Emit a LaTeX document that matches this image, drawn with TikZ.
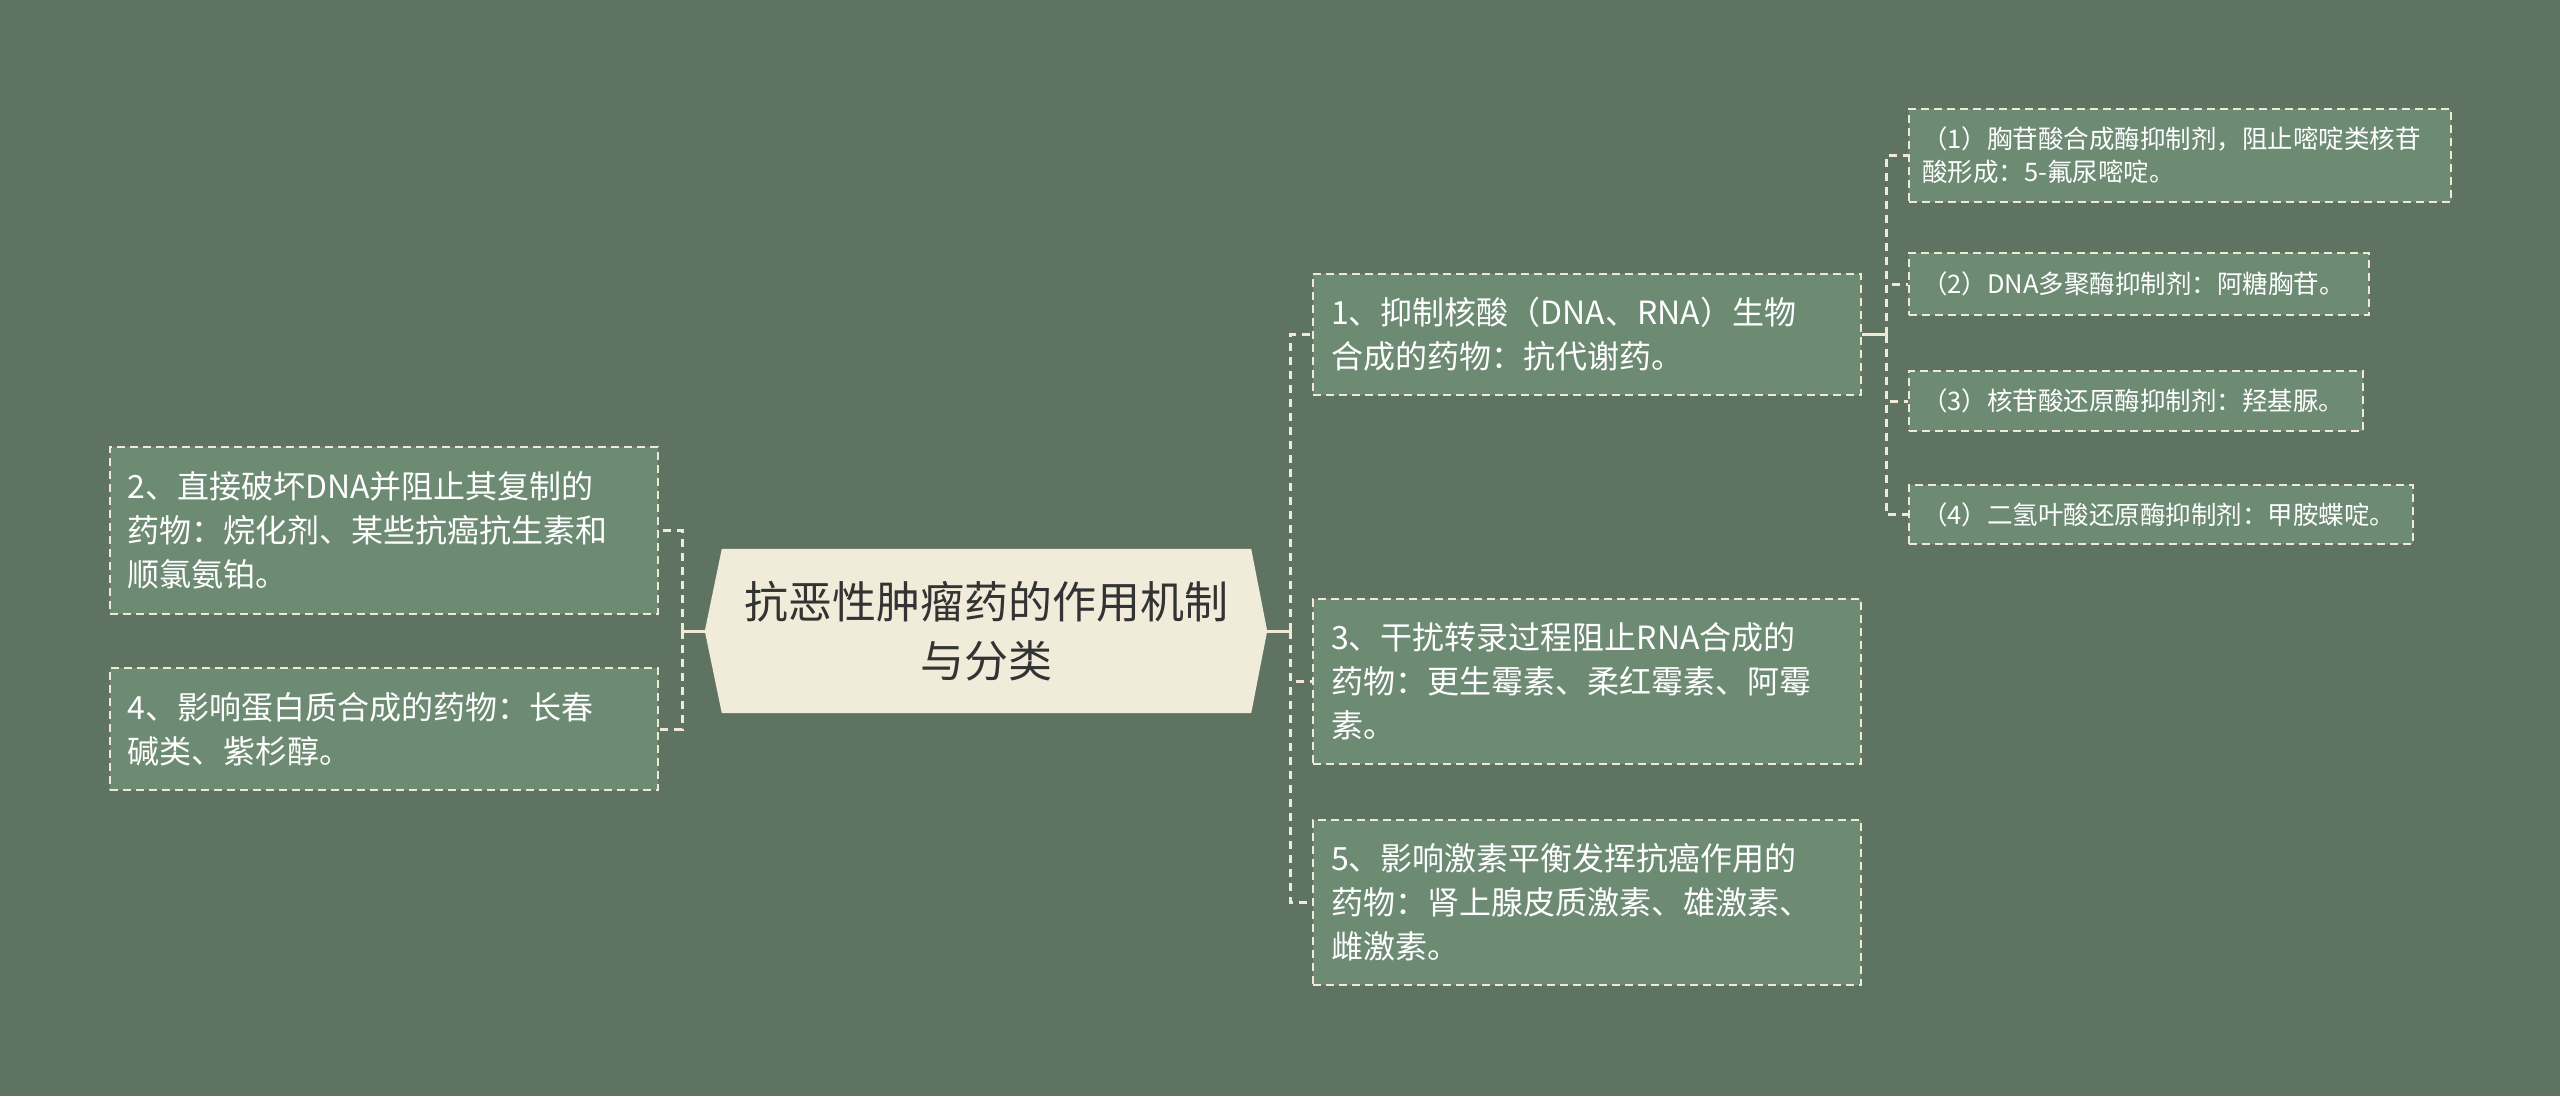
\documentclass[tikz,border=0pt]{standalone}
\usepackage{fontspec}
\setmainfont{Noto Sans CJK SC}
\usepackage{tikz}
\usetikzlibrary{arrows,backgrounds}
\definecolor{bgc}{HTML}{5F7363}
\definecolor{boxc}{HTML}{6D8A73}
\definecolor{rootc}{HTML}{F1EBDA}
\definecolor{linec}{HTML}{EFE9D6}
\tikzstyle{root_n} = [rectangle, text=black!80, font=\fontsize{44pt}{59pt}\selectfont, align=center, inner sep=0pt, minimum width=529pt, minimum height=164pt]
\tikzstyle{mid_n} = [rectangle, draw=linec, fill=boxc, text=white, dash pattern=on 8pt off 5pt, line width=2pt, font=\fontsize{32pt}{44pt}\selectfont, align=left, inner xsep=18pt, inner ysep=0pt, text width=512pt]
\tikzstyle{sub_n} = [rectangle, draw=linec, fill=boxc, text=white, dash pattern=on 8pt off 5pt, line width=2pt, font=\fontsize{25.5pt}{33pt}\selectfont, align=left, inner xsep=13pt, inner ysep=0pt]
\tikzstyle{link} = [draw=linec, line width=3pt]
\tikzstyle{dlink} = [link, dash pattern=on 8pt off 6pt]

\begin{document}
\begin{tikzpicture}[x=1pt,y=-1pt]
\useasboundingbox (0,0) rectangle (2560,1096);
\begin{pgfonlayer}{background}
\fill[bgc] (0,0) rectangle (2560,1096);
\end{pgfonlayer}

% centre
\node [root_n] (root) at (986.5,631) {抗恶性肿瘤药的作用机制\\与分类};
\coordinate (root_l) at ([xshift=-17pt]root.west);
\coordinate (root_r) at ([xshift=16pt]root.east);
\begin{pgfonlayer}{background}
\fill[rootc] (root.north west) -- (root.north east) -- (root_r) -- (root.south east)
    -- (root.south west) -- (root_l) -- cycle;
\end{pgfonlayer}

% right side
\node [mid_n, minimum height=121pt] (n1) at (1587,334.5) {1、抑制核酸（DNA、RNA）生物\\合成的药物：抗代谢药。};
\node [mid_n, minimum height=165pt] (n3) at (1587,681.5) {3、干扰转录过程阻止RNA合成的\\药物：更生霉素、柔红霉素、阿霉\\素。};
\node [mid_n, minimum height=165pt] (n5) at (1587,902.5) {5、影响激素平衡发挥抗癌作用的\\药物：肾上腺皮质激素、雄激素、\\雌激素。};

% left side
\node [mid_n, minimum height=167pt] (n2) at (383.5,530.5) {2、直接破坏DNA并阻止其复制的\\药物：烷化剂、某些抗癌抗生素和\\顺氯氨铂。};
\node [mid_n, minimum height=122pt] (n4) at (383.5,729) {4、影响蛋白质合成的药物：长春\\碱类、紫杉醇。};

% under 1
\node [sub_n, text width=516pt, minimum height=93pt] (s1) at (2180,155.5) {（1）胸苷酸合成酶抑制剂，阻止嘧啶类核苷\\酸形成：5-氟尿嘧啶。};
\node [sub_n, text width=434pt, minimum height=62pt] (s2) at (2139,284) {（2）DNA多聚酶抑制剂：阿糖胸苷。};
\node [sub_n, text width=428pt, minimum height=60pt] (s3) at (2136,401) {（3）核苷酸还原酶抑制剂：羟基脲。};
\node [sub_n, text width=478pt, minimum height=59pt] (s4) at (2161,514.5) {（4）二氢叶酸还原酶抑制剂：甲胺蝶啶。};

% links
\coordinate (rj) at (1290,631);
\coordinate (lj) at (682,631);
\coordinate (sj) at (1886,334.5);
\draw[link] (root_r) -- (rj);
\foreach \n in {n1,n3,n5}
    \draw[dlink] (rj) |- (\n.west);
\draw[link] (root_l) -- (lj);
\foreach \n in {n2,n4}
    \draw[dlink] (lj) |- (\n.east);
\draw[link] (n1.east) -- (sj);
\foreach \n in {s1,s2,s3,s4}
    \draw[dlink] (sj) |- (\n.west);
\end{tikzpicture}
\end{document}
